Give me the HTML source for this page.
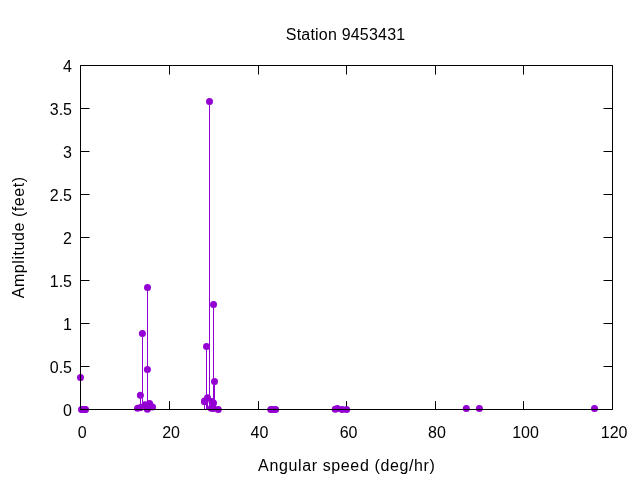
<!DOCTYPE html>
<html><head><meta charset="utf-8"><style>
html,body{margin:0;padding:0;background:#fff;}
svg{display:block;will-change:transform;}
text{font-family:"Liberation Sans",sans-serif;font-size:16px;fill:#000;}
</style></head><body>
<svg width="640" height="480" viewBox="0 0 640 480">
<rect width="640" height="480" fill="#fff"/>
<path d="M80.5 409.5V401.1M80.5 65.5V74.5M169.5 409.5V401.1M169.5 65.5V74.5M258.5 409.5V401.1M258.5 65.5V74.5M346.5 409.5V401.1M346.5 65.5V74.5M435.5 409.5V401.1M435.5 65.5V74.5M523.5 409.5V401.1M523.5 65.5V74.5M612.5 409.5V401.1M612.5 65.5V74.5M80.5 409.5H89.5M612.5 409.5H603.5M80.5 366.5H89.5M612.5 366.5H603.5M80.5 323.5H89.5M612.5 323.5H603.5M80.5 280.5H89.5M612.5 280.5H603.5M80.5 237.5H89.5M612.5 237.5H603.5M80.5 194.5H89.5M612.5 194.5H603.5M80.5 151.5H89.5M612.5 151.5H603.5M80.5 108.5H89.5M612.5 108.5H603.5M80.5 65.5H89.5M612.5 65.5H603.5" stroke="#000" stroke-width="1" fill="none"/>
<path d="M80.5 409.5V377.4M137.5 409.5V408.3M140.5 409.5V395.2M140.5 409.5V407.6M142.5 409.5V333.5M145.5 409.5V404.8M147.5 409.5V369.4M147.5 409.5V287.4M149.5 409.5V403.6M152.5 409.5V407.0M204.5 409.5V401.8M204.5 409.5V400.9M206.5 409.5V346.5M207.5 409.5V397.8M209.5 409.5V101.5M211.5 409.5V408.2M211.5 409.5V401.5M213.5 409.5V402.9M213.5 409.5V304.5M213.5 409.5V408.5M214.5 409.5V381.5M337.5 409.5V408.5M466.5 409.5V408.4M479.5 409.5V408.4M594.5 409.5V408.4" stroke="#9400d3" stroke-width="1" fill="none"/>
<g fill="#9400d3"><circle cx="80.5" cy="377.4" r="3.5"/><circle cx="81.5" cy="409.4" r="3.5"/><circle cx="82.9" cy="409.4" r="3.5"/><circle cx="85.0" cy="409.4" r="3.5"/><circle cx="85.5" cy="409.4" r="3.5"/><circle cx="137.6" cy="408.3" r="3.5"/><circle cx="140.4" cy="395.2" r="3.5"/><circle cx="140.5" cy="407.6" r="3.5"/><circle cx="142.4" cy="333.5" r="3.5"/><circle cx="145.0" cy="404.8" r="3.5"/><circle cx="147.4" cy="369.4" r="3.5"/><circle cx="147.4" cy="409.2" r="3.5"/><circle cx="147.5" cy="287.4" r="3.5"/><circle cx="149.6" cy="403.6" r="3.5"/><circle cx="152.5" cy="407.0" r="3.5"/><circle cx="204.5" cy="401.8" r="3.5"/><circle cx="204.6" cy="400.9" r="3.5"/><circle cx="206.5" cy="346.5" r="3.5"/><circle cx="207.5" cy="397.8" r="3.5"/><circle cx="209.5" cy="101.5" r="3.5"/><circle cx="211.2" cy="408.2" r="3.5"/><circle cx="211.9" cy="401.5" r="3.5"/><circle cx="213.5" cy="402.9" r="3.5"/><circle cx="213.5" cy="304.5" r="3.5"/><circle cx="213.5" cy="408.5" r="3.5"/><circle cx="214.5" cy="381.5" r="3.5"/><circle cx="218.3" cy="409.4" r="3.5"/><circle cx="270.8" cy="409.4" r="3.5"/><circle cx="273.2" cy="409.4" r="3.5"/><circle cx="275.6" cy="409.4" r="3.5"/><circle cx="335.2" cy="409.2" r="3.5"/><circle cx="337.4" cy="408.5" r="3.5"/><circle cx="342.2" cy="409.5" r="3.5"/><circle cx="346.6" cy="409.5" r="3.5"/><circle cx="466.3" cy="408.4" r="3.5"/><circle cx="479.4" cy="408.4" r="3.5"/><circle cx="594.5" cy="408.4" r="3.5"/></g>
<path d="M80.5 65.5H612.5V409.5H80.5Z" stroke="#000" stroke-width="1" fill="none"/>
<g text-anchor="middle"><text x="82.15" y="437.6">0</text><text x="171.05" y="437.6">20</text><text x="259.50" y="437.6">40</text><text x="348.55" y="437.6">60</text><text x="437.00" y="437.6">80</text><text x="525.50" y="437.6">100</text><text x="614.10" y="437.6">120</text></g>
<g text-anchor="end"><text x="72" y="415.6">0</text><text x="72" y="372.6">0.5</text><text x="72" y="329.6">1</text><text x="72" y="286.6">1.5</text><text x="72" y="243.6">2</text><text x="72" y="200.6">2.5</text><text x="72" y="157.6">3</text><text x="72" y="114.6">3.5</text><text x="72" y="71.6">4</text></g>
<text x="345.5" y="39.5" text-anchor="middle" textLength="119.3" lengthAdjust="spacing">Station 9453431</text>
<text x="346.5" y="470.8" text-anchor="middle" textLength="176.8" lengthAdjust="spacing">Angular speed (deg/hr)</text>
<text transform="translate(24.2 237.6) rotate(-90)" text-anchor="middle" textLength="121.5" lengthAdjust="spacing">Amplitude (feet)</text>
</svg>
</body></html>
